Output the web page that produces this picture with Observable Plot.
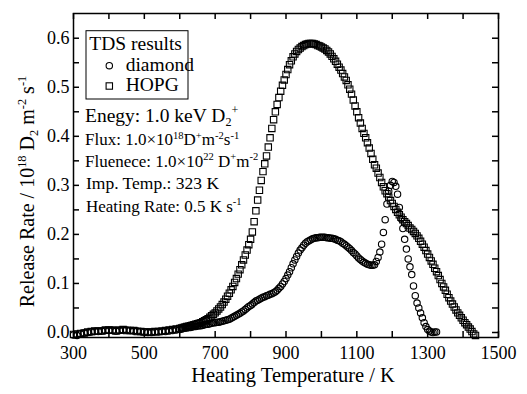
<!DOCTYPE html>
<html><head><meta charset="utf-8">
<script src="https://cdn.jsdelivr.net/npm/d3@7"></script>
<script src="https://cdn.jsdelivr.net/npm/@observablehq/plot@0.6"></script>
<style>html,body{margin:0;padding:0;background:#fff;} #chart{width:527px;height:394px;} text{white-space:pre;}</style>
</head><body><div id="chart"></div>
<script>
// ---- tick labels ----
const xMajorTicks = [300, 500, 700, 900, 1100, 1300, 1500];
const xAllTicks = [300, 400, 500, 600, 700, 800, 900, 1000, 1100, 1200, 1300, 1400, 1500];
const yMajorTicks = [0.0, 0.1, 0.2, 0.3, 0.4, 0.5, 0.6];
const yAllTicks = [0.0, 0.05, 0.1, 0.15, 0.2, 0.25, 0.3, 0.35, 0.4, 0.45, 0.5, 0.55, 0.6];

// ---- diamond series (temperature K, release rate 1e18 D2 m^-2 s^-1) ----
const diamondT = [300,310,320,330,340,350,360,370,380,390,
400,410,420,430,440,450,460,470,480,490,
500,510,520,530,540,550,560,570,580,590,600,
605,610,615,620,625,630,635,640,645,650,655,660,665,670,675,680,685,690,695,700,
705,710,715,720,725,730,735,740,745,750,755,760,765,770,775,780,785,790,795,800,
805,810,815,820,825,830,835,840,845,850,855,860,865,870,875,880,885,890,895,900,
905,910,915,920,925,930,935,940,945,950,955,960,965,970,975,980,985,990,995,1000,
1005,1010,1015,1020,1025,1030,1035,1040,1045,1050,1055,1060,1065,1070,1075,1080,1085,1090,1095,1100,
1105,1110,1115,1120,1125,1130,1135,1140,1145,1150,1155,1160,1165,1170,1175,1180,1185,1190,1195,1200,
1205,1210,1215,1220,1225,1230,1235,1240,1245,1250,1255,1260,1265,1270,1275,1280,1285,1290,1295,1300,
1305,1310,1315,1320,1325];
const diamondV = [-0.005,-0.006,-0.003,-0.001,0.000,0.001,0.002,0.002,0.003,0.004,
0.004,0.004,0.003,0.004,0.005,0.005,0.004,0.003,0.003,0.002,
0.001,0.000,0.000,0.001,0.001,0.002,0.002,0.003,0.004,0.005,0.006,
0.007,0.008,0.009,0.009,0.010,0.010,0.011,0.012,0.012,0.013,0.014,0.014,0.015,0.016,0.017,0.017,0.018,0.019,0.020,0.020,
0.021,0.021,0.022,0.023,0.024,0.025,0.026,0.027,0.029,0.031,0.033,0.035,0.037,0.039,0.042,0.044,0.047,0.050,0.053,0.055,
0.058,0.061,0.064,0.066,0.068,0.070,0.072,0.073,0.075,0.076,0.078,0.079,0.081,0.083,0.086,0.090,0.094,0.099,0.104,0.110,
0.117,0.124,0.132,0.140,0.148,0.155,0.162,0.168,0.173,0.178,0.182,0.185,0.187,0.189,0.191,0.192,0.193,0.193,0.194,0.194,
0.194,0.194,0.193,0.193,0.192,0.192,0.191,0.190,0.188,0.187,0.185,0.182,0.180,0.177,0.174,0.171,0.167,0.163,0.160,0.156,
0.152,0.149,0.146,0.143,0.141,0.139,0.138,0.137,0.137,0.138,0.145,0.153,0.164,0.180,0.204,0.230,0.262,0.288,0.300,0.308,
0.306,0.298,0.282,0.255,0.232,0.212,0.190,0.170,0.150,0.134,0.118,0.095,0.075,0.060,0.050,0.040,0.030,0.020,0.012,0.006,
0.003,0.001,0.000,0.001,0.001];

// ---- HOPG series ----
const hopgT = [300,310,320,330,340,350,360,370,380,390,
400,410,420,430,440,450,460,470,480,490,
500,510,520,530,540,550,560,570,580,590,600,
605,610,615,620,625,630,635,640,645,650,655,660,665,670,675,680,685,690,695,700,
705,710,715,720,725,730,735,740,745,750,755,760,765,770,775,780,785,790,795,800,
805,810,815,820,825,830,835,840,845,850,855,860,865,870,875,880,885,890,895,900,
905,910,915,920,925,930,935,940,945,950,955,960,965,970,975,980,985,990,995,1000,
1005,1010,1015,1020,1025,1030,1035,1040,1045,1050,1055,1060,1065,1070,1075,1080,1085,1090,1095,1100,
1105,1110,1115,1120,1125,1130,1135,1140,1145,1150,1155,1160,1165,1170,1175,1180,1185,1190,1195,1200,
1205,1210,1215,1220,1225,1230,1235,1240,1245,1250,1255,1260,1265,1270,1275,1280,1285,1290,1295,1300,
1305,1310,1315,1320,1325,1330,1335,1340,1345,1350,1355,1360,1365,1370,1375,1380,1385,1390,1395,1400,
1405,1410,1415,1420,1425,1430,1435];
const hopgV = [-0.004,-0.003,-0.002,-0.001,0.001,0.002,0.003,0.003,0.003,0.005,
0.005,0.005,0.003,0.005,0.006,0.004,0.004,0.004,0.002,0.002,
0.001,0.001,0.001,0.002,0.002,0.003,0.004,0.005,0.006,0.007,0.008,
0.009,0.010,0.011,0.012,0.013,0.014,0.015,0.016,0.017,0.018,0.019,0.020,0.022,0.024,0.026,0.028,0.031,0.034,0.037,0.040,
0.044,0.048,0.052,0.057,0.062,0.068,0.074,0.080,0.087,0.094,0.102,0.110,0.119,0.128,0.138,0.148,0.158,0.168,0.179,0.190,
0.205,0.226,0.248,0.270,0.290,0.310,0.328,0.344,0.360,0.378,0.397,0.416,0.434,0.450,0.465,0.479,0.492,0.504,0.515,0.526,
0.536,0.546,0.554,0.562,0.568,0.573,0.577,0.580,0.583,0.585,0.587,0.588,0.589,0.589,0.589,0.588,0.587,0.585,0.584,0.582,
0.580,0.578,0.575,0.572,0.568,0.563,0.558,0.553,0.547,0.541,0.535,0.528,0.521,0.514,0.505,0.496,0.486,0.474,0.462,0.450,
0.438,0.427,0.416,0.406,0.397,0.387,0.376,0.365,0.353,0.342,0.335,0.325,0.316,0.306,0.297,0.289,0.283,0.276,0.269,0.263,
0.257,0.251,0.245,0.240,0.235,0.230,0.226,0.222,0.218,0.213,0.210,0.206,0.202,0.197,0.192,0.186,0.180,0.174,0.167,0.160,
0.153,0.146,0.139,0.131,0.124,0.116,0.108,0.100,0.093,0.086,0.078,0.071,0.064,0.058,0.052,0.046,0.040,0.035,0.030,0.025,
0.020,0.016,0.011,0.007,0.002,-0.003,-0.006];

const diamondData = diamondT.map((t, i) => ({T: t, V: diamondV[i]}));
const hopgData = hopgT.map((t, i) => ({T: t, V: hopgV[i]}));

const FONT = '"Liberation Serif","Times New Roman",Times,serif';
const Y0 = -0.0102, Y1 = 0.6504;   // y domain
const TY = 0.0122, TX = 17;        // inward tick length (about 6 px) in data units

const plot = Plot.plot({
  width: 527, height: 394,
  marginLeft: 73, marginRight: 29, marginTop: 13, marginBottom: 57,
  style: {fontFamily: FONT, fontSize: "18px", background: "white", color: "black"},
  x: {domain: [300, 1500], label: null},
  y: {domain: [Y0, Y1], label: null},
  marks: [
    Plot.dot(hopgData, {x: "T", y: "V", symbol: "square", r: 3.6, stroke: "black", fill: "none", strokeWidth: 1.1}),
    Plot.dot(diamondData, {x: "T", y: "V", symbol: "circle", r: 3.2, stroke: "black", fill: "none", strokeWidth: 1.1}),
    Plot.ruleX(xAllTicks, {x: d => d, y1: Y0, y2: Y0 + TY, stroke: "black", strokeWidth: 1.5}),
    Plot.ruleX(xAllTicks, {x: d => d, y1: Y1, y2: Y1 - TY, stroke: "black", strokeWidth: 1.5}),
    Plot.ruleY(yAllTicks, {y: d => d, x1: 300, x2: 300 + TX, stroke: "black", strokeWidth: 1.5}),
    Plot.ruleY(yAllTicks, {y: d => d, x1: 1500, x2: 1500 - TX, stroke: "black", strokeWidth: 1.5}),
    Plot.axisX({anchor: "bottom", ticks: xMajorTicks, tickSize: 0, tickPadding: 8.5, tickFormat: d => String(d), label: null, fontSize: 18}),
    Plot.axisY({anchor: "left", ticks: yMajorTicks, tickSize: 0, tickPadding: 4, tickFormat: d3.format(".1f"), label: null, fontSize: 18}),
    Plot.frame({stroke: "black", strokeWidth: 1.5})
  ]
});
document.getElementById("chart").appendChild(plot);

const svg = d3.select(plot);
const g = svg.append("g").attr("font-family", FONT).attr("fill", "black");

function rich(x, y, size, parts, anchor) {
  const t = g.append("text").attr("x", x).attr("y", y).attr("font-size", size)
    .attr("text-anchor", anchor || "start").attr("fill", "black");
  let shift = 0;
  for (const [s, kind] of parts) {
    const target = kind === "sup" ? -0.38 * size : kind === "sub" ? 0.22 * size : 0;
    const ts = t.append("tspan").text(s).attr("dy", target - shift);
    if (kind) ts.attr("font-size", size * 0.62);
    shift = target;
  }
  return t;
}

// legend box
g.append("rect").attr("x", 86).attr("y", 30.7).attr("width", 102).attr("height", 68.3)
  .attr("fill", "white").attr("stroke", "black").attr("stroke-width", 1);
rich(89.3, 50, 19.5, [["TDS results"]]);
g.append("circle").attr("cx", 109.3).attr("cy", 65.7).attr("r", 3.2).attr("fill", "none").attr("stroke", "black").attr("stroke-width", 1.1);
rich(125.7, 71, 19.5, [["diamond"]]);
g.append("rect").attr("x", 106.1).attr("y", 82.8).attr("width", 6.4).attr("height", 6.4).attr("fill", "none").attr("stroke", "black").attr("stroke-width", 1.1);
rich(125.7, 90.7, 19.5, [["HOPG"]]);

// conditions
rich(85, 121.7, 19.5, [["Enegy: 1.0 keV D"], ["2", "sub"], ["+", "sup"]]);
rich(85, 145, 17, [["Flux: 1.0\u00d710"], ["18", "sup"], ["D"], ["+", "sup"], ["m"], ["-2", "sup"], ["s"], ["-1", "sup"]]);
rich(85, 166.5, 17, [["Fluenece: 1.0\u00d710"], ["22", "sup"], [" D"], ["+", "sup"], ["m"], ["-2", "sup"]]);
rich(86, 189.3, 17.5, [["Imp. Temp.: 323 K"]]);
rich(86, 211.7, 17, [["Heating Rate: 0.5 K s"], ["-1", "sup"]]);

// axis titles
rich(293, 381.7, 20.5, [["Heating Temperature / K"]], "middle");
rich(0, 0, 20, [["Release Rate / 10"], ["18", "sup"], [" D"], ["2", "sub"], [" m"], ["-2", "sup"], [" s"], ["-1", "sup"]], "middle")
  .attr("transform", "translate(34,191.5) rotate(-90)");
</script>
</body></html>
